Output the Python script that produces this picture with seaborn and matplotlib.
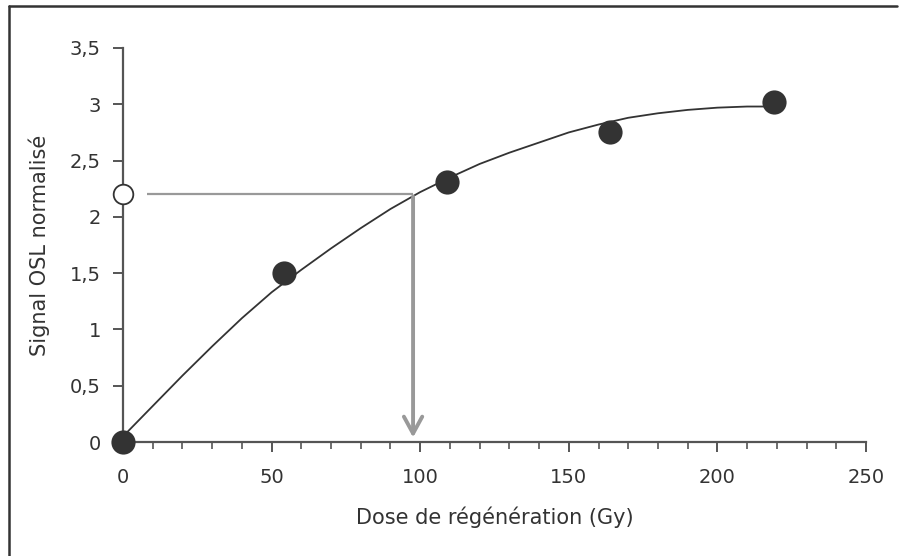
import matplotlib
matplotlib.use('Agg')
import matplotlib.pyplot as plt
from matplotlib.lines import Line2D
from matplotlib.ticker import MultipleLocator, FuncFormatter
import seaborn as sns
import pandas as pd

# measured points (dose in Gy, normalised OSL signal)
dose = [0, 54, 109, 164, 219]
signal = [0.0, 1.5, 2.31, 2.75, 3.02]

# natural signal, and the dose read back from the curve
natural_signal = 2.2
equiv_dose = 97.6

# fitted growth curve
curve_dose = [0, 10, 20, 30, 40, 50, 60, 70, 80, 90, 100, 110, 120,
              130, 140, 150, 160, 170, 180, 190, 200, 210, 220]
curve_signal = [0.05, 0.32, 0.59, 0.85, 1.10, 1.33, 1.53, 1.72, 1.90, 2.07,
                2.22, 2.35, 2.47, 2.57, 2.66, 2.75, 2.82, 2.88, 2.92, 2.95,
                2.97, 2.98, 2.98]

sns.set_style('ticks')
plt.rcParams['font.family'] = ['DejaVu Sans']

fig = plt.figure(figsize=(9.06, 5.56), dpi=100)
ax = fig.add_axes([0.1358, 0.205, 0.82, 0.7087])

curve = pd.DataFrame({'dose': curve_dose, 'signal': curve_signal})
points = pd.DataFrame({'dose': dose, 'signal': signal})

sns.lineplot(data=curve, x='dose', y='signal', ax=ax, color='#333333',
             linewidth=1.3, sort=True)

# guide lines: natural signal across to the curve, then down to the dose axis
guide = '#999999'
ax.plot([8, equiv_dose], [natural_signal, natural_signal], color=guide,
        linewidth=1.6, solid_capstyle='butt')
ax.annotate('', xy=(equiv_dose, 0.04), xytext=(equiv_dose, natural_signal - 0.02),
            arrowprops=dict(arrowstyle='->, head_length=0.55, head_width=0.3',
                            color=guide, lw=2.8, mutation_scale=22,
                            shrinkA=0, shrinkB=0))

sns.scatterplot(data=points, x='dose', y='signal', ax=ax, s=260,
                color='#333333', edgecolor='#333333', zorder=5, clip_on=False)
ax.scatter([0], [natural_signal], s=200, facecolor='white',
           edgecolor='#333333', linewidth=1.3, zorder=5, clip_on=False)

ax.set_xlim(0, 250)
ax.set_ylim(0, 3.5)
ax.xaxis.set_major_locator(MultipleLocator(50))
ax.xaxis.set_minor_locator(MultipleLocator(10))
ax.yaxis.set_major_locator(MultipleLocator(0.5))
fmt = FuncFormatter(lambda v, p: ('%g' % v).replace('.', ','))
ax.xaxis.set_major_formatter(fmt)
ax.yaxis.set_major_formatter(fmt)

axis_col = '#555555'
for side in ['top', 'right']:
    ax.spines[side].set_visible(False)
for side in ['left', 'bottom']:
    ax.spines[side].set_color(axis_col)
    ax.spines[side].set_linewidth(1.6)
ax.tick_params(which='major', length=7, width=1.4, color=axis_col,
               labelsize=14, labelcolor='#333333')
ax.tick_params(axis='x', which='major', pad=12)
ax.tick_params(axis='y', which='major', pad=9)
ax.tick_params(which='minor', length=5, width=1.2, color=axis_col)

ax.set_xlabel('Dose de régénération (Gy)', fontsize=15, color='#333333',
              labelpad=14)
ax.set_ylabel('Signal OSL normalisé', fontsize=15, color='#333333',
              labelpad=14)

# frame lines of the original figure box (left and top only)
fig.add_artist(Line2D([0.0099, 0.0099], [0.0, 0.989], color='#333333',
                      linewidth=1.8, transform=fig.transFigure))
fig.add_artist(Line2D([0.0099, 0.99], [0.989, 0.989], color='#333333',
                      linewidth=1.8, transform=fig.transFigure))

fig.savefig('out.png', dpi=100)
